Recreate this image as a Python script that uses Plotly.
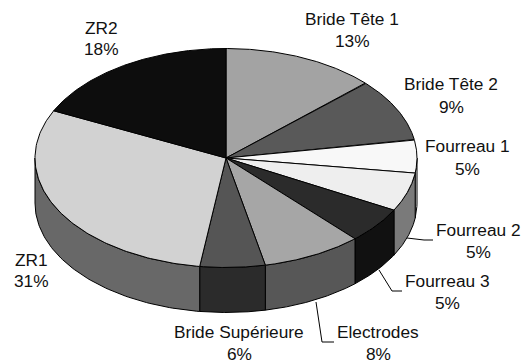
import numpy as np
import plotly.graph_objects as go

categories = ["Bride Tête 1", "Bride Tête 2", "Fourreau 1", "Fourreau 2", "Fourreau 3",
              "Electrodes", "Bride Supérieure", "ZR1", "ZR2"]
values = [13.0, 9.3, 4.9, 5.7, 5.3, 8.5, 5.5, 29.9, 17.9]
percent_labels = ["13%", "9%", "5%", "5%", "5%", "8%", "6%", "31%", "18%"]
top_colors = ["#a3a3a3", "#595959", "#f8f8f8", "#eeeeee", "#2b2b2b",
              "#a6a6a6", "#555555", "#d2d2d2", "#0d0d0d"]
side_colors = ["#6a6a6a", "#3a3a3a", "#f4f4f4", "#7a7a7a", "#111111",
               "#575757", "#2b2b2b", "#686868", "#050505"]

CX, CY, RX, RY, DEPTH = 226, 158, 191, 109.5, 45


def ell(a, dy=0.0):
    return CX + RX * np.sin(a), CY - RY * np.cos(a) + dy


fig = go.Figure()
line = dict(color="black", width=1)
total = sum(values)
edges = np.concatenate([[0], np.cumsum(values)]) / total * 2 * np.pi

# side walls (only the front half of the disc is visible)
for i in range(len(values)):
    a0, a1 = max(edges[i], np.pi / 2), min(edges[i + 1], 3 * np.pi / 2)
    if a1 <= a0:
        continue
    t = np.linspace(a0, a1, 80)
    x0, y0 = ell(t)
    x1, y1 = ell(t[::-1], DEPTH)
    fig.add_trace(go.Scatter(x=np.r_[x0, x1, x0[0]], y=np.r_[y0, y1, y0[0]], mode="lines",
                             fill="toself", fillcolor=side_colors[i], line=line,
                             hoverinfo="skip", showlegend=False))

# top faces
for i in range(len(values)):
    t = np.linspace(edges[i], edges[i + 1], 120)
    x0, y0 = ell(t)
    fig.add_trace(go.Scatter(x=np.r_[CX, x0, CX], y=np.r_[CY, y0, CY], mode="lines",
                             fill="toself", fillcolor=top_colors[i], line=line,
                             name=categories[i], hoverinfo="skip", showlegend=False))

# leader lines
leaders = [([407, 424, 433], [238, 240, 240]),
           ([379, 392, 402], [270, 291, 291]),
           ([316, 322, 334], [302, 342, 342])]
for lx, ly in leaders:
    fig.add_trace(go.Scatter(x=lx, y=ly, mode="lines", line=line,
                             hoverinfo="skip", showlegend=False))

# label positions: (x, y of name, y of percent)
label_pos = [(352, 19, 41), (451, 84, 107), (467, 146, 169), (478, 230, 252), (447, 281, 303),
             (378, 332, 354), (239, 332, 354), (31, 260, 281), (101, 28, 49)]
for name, pct, (x, y0, y1) in zip(categories, percent_labels, label_pos):
    for txt, y in ((name, y0), (pct, y1)):
        fig.add_annotation(x=x, y=y, text=txt, showarrow=False, xanchor="center", yanchor="middle",
                           font=dict(family="Liberation Sans", size=17.3, color="#111111"))

fig.update_layout(width=528, height=363, margin=dict(l=0, r=0, t=0, b=0),
                  paper_bgcolor="white", plot_bgcolor="white",
                  xaxis=dict(range=[0, 528], visible=False, fixedrange=True),
                  yaxis=dict(range=[363, 0], visible=False, fixedrange=True))
fig.write_html("out.html", config=dict(displayModeBar=False),
               post_script="document.body.style.margin='0';document.documentElement.style.overflow='hidden';")
